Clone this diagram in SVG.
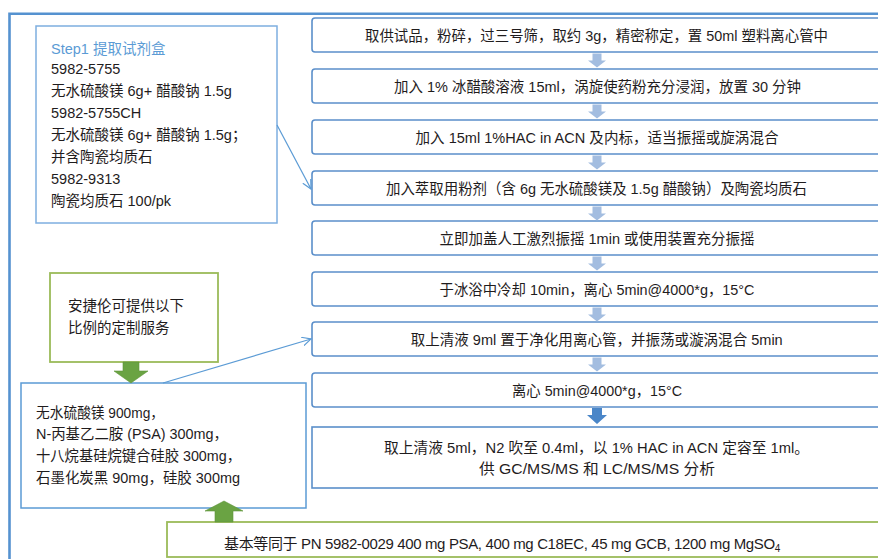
<svg xmlns="http://www.w3.org/2000/svg" width="878" height="559" viewBox="0 0 878 559">
<defs>
<style>
.t{font-family:"Liberation Sans","Noto Sans CJK SC",sans-serif;font-size:15px;fill:#1f1c1d}
.s{font-family:"Liberation Sans","Noto Sans CJK SC",sans-serif;font-size:14.5px;fill:#1f1c1d}
.box{fill:#fff;stroke:#5b8fca;stroke-width:1.6}
.gbox{fill:#fff;stroke:#9bbb59;stroke-width:1.8}
.conn{fill:none;stroke:#5b9bd5;stroke-width:1.2}
.la{fill:#a3bde0}
.da{fill:#4a86c8}
.ga{fill:#6aa343;stroke:#5e9639;stroke-width:0.6}
</style>
<path id="lightArrow" d="M-4.5,0 H4.5 V7 H9 L0,14 L-9,7 H-4.5 Z"/>
<marker id="open" viewBox="0 0 10 10" refX="9" refY="5" markerWidth="10" markerHeight="10" markerUnits="userSpaceOnUse" orient="auto">
<path d="M0,0.5 L9,5 L0,9.5" fill="none" stroke="#5b9bd5" stroke-width="1.2"/>
</marker>
</defs>
<rect width="878" height="559" fill="#fff"/>
<path d="M9.5,559 V13.7 H878" fill="none" stroke="#5592d0" stroke-width="2.6"/>

<g id="step1">
<rect x="36" y="26" width="241" height="197" fill="#fff" stroke="#7eaee0" stroke-width="1.5"/>
<text class="s" x="51" y="53.5" style="fill:#5b9bd5">Step1 提取试剂盒</text>
<text class="s" x="51" y="74">5982-5755</text>
<text class="s" x="51" y="96">无水硫酸镁 6g+ 醋酸钠 1.5g</text>
<text class="s" x="51" y="118">5982-5755CH</text>
<text class="s" x="51" y="140">无水硫酸镁 6g+ 醋酸钠 1.5g；</text>
<text class="s" x="51" y="162">并含陶瓷均质石</text>
<text class="s" x="51" y="184">5982-9313</text>
<text class="s" x="51" y="206">陶瓷均质石 100/pk</text>
</g>

<g id="s1"><rect class="box" x="312" y="18" width="575" height="34" rx="3"/>
<text class="t" x="365" y="40.5" textLength="463" lengthAdjust="spacingAndGlyphs">取供试品，粉碎，过三号筛，取约 3g，精密称定，置 50ml 塑料离心管中</text></g>
<g id="s2"><rect class="box" x="312" y="69" width="575" height="34" rx="3"/>
<text class="t" x="394" y="91.5" textLength="407" lengthAdjust="spacingAndGlyphs">加入 1% 冰醋酸溶液 15ml，涡旋使药粉充分浸润，放置 30 分钟</text></g>
<g id="s3"><rect class="box" x="312" y="120" width="575" height="34" rx="3"/>
<text class="t" x="415.5" y="142.5" textLength="363" lengthAdjust="spacingAndGlyphs">加入 15ml 1%HAC in ACN 及内标，适当振摇或旋涡混合</text></g>
<g id="s4"><rect class="box" x="312" y="171" width="575" height="34" rx="3"/>
<text class="t" x="386" y="193.5" textLength="421" lengthAdjust="spacingAndGlyphs">加入萃取用粉剂（含 6g 无水硫酸镁及 1.5g 醋酸钠）及陶瓷均质石</text></g>
<g id="s5"><rect class="box" x="312" y="221" width="575" height="34" rx="3"/>
<text class="t" x="439.5" y="243.5" textLength="315" lengthAdjust="spacingAndGlyphs">立即加盖人工激烈振摇 1min 或使用装置充分振摇</text></g>
<g id="s6"><rect class="box" x="312" y="272" width="575" height="34" rx="3"/>
<text class="t" x="439.5" y="294.5" textLength="315" lengthAdjust="spacingAndGlyphs">于冰浴中冷却 10min，离心 5min@4000*g，15°C</text></g>
<g id="s7"><rect class="box" x="312" y="322" width="575" height="34" rx="3"/>
<text class="t" x="410.7" y="344.5" textLength="372" lengthAdjust="spacingAndGlyphs">取上清液 9ml 置于净化用离心管，并振荡或漩涡混合 5min</text></g>
<g id="s8"><rect class="box" x="312" y="373" width="575" height="34" rx="3"/>
<text class="t" x="512" y="395.5" textLength="170" lengthAdjust="spacingAndGlyphs">离心 5min@4000*g，15°C</text></g>
<g id="s9"><rect class="box" x="312" y="427" width="575" height="61"/>
<text class="t" x="384" y="452.5" textLength="425" lengthAdjust="spacingAndGlyphs">取上清液 5ml，N2 吹至 0.4ml，以 1% HAC in ACN 定容至 1ml。</text>
<text class="t" x="479" y="473.5" textLength="236" lengthAdjust="spacingAndGlyphs">供 GC/MS/MS 和 LC/MS/MS 分析</text></g>

<g id="custom">
<rect class="gbox" x="50" y="273" width="168" height="89"/>
<text class="s" x="68" y="310.5">安捷伦可提供以下</text>
<text class="s" x="68" y="332.5">比例的定制服务</text>
</g>

<g id="mix">
<rect x="21" y="383" width="285" height="125" fill="#fff" stroke="#5b9bd5" stroke-width="1.5"/>
<text class="s" x="36" y="417.5" textLength="128" lengthAdjust="spacingAndGlyphs">无水硫酸镁 900mg，</text>
<text class="s" x="36" y="438.5" textLength="192" lengthAdjust="spacingAndGlyphs">N-丙基乙二胺 (PSA) 300mg，</text>
<text class="s" x="36" y="460.5" textLength="205" lengthAdjust="spacingAndGlyphs">十八烷基硅烷键合硅胶 300mg，</text>
<text class="s" x="36" y="482.5" textLength="204" lengthAdjust="spacingAndGlyphs">石墨化炭黑 90mg，硅胶 300mg</text>
</g>

<g id="equiv">
<rect class="gbox" x="167" y="522" width="720" height="35"/>
<text class="t" x="224" y="548.5" style="letter-spacing:-0.36px">基本等同于 PN 5982-0029 400 mg PSA, 400 mg C18EC, 45 mg GCB, 1200 mg MgSO<tspan font-size="10" dy="3">4</tspan></text>
</g>

<g id="connectors">
<use href="#lightArrow" class="la" x="597" y="53.5"/>
<use href="#lightArrow" class="la" x="597" y="104.5"/>
<use href="#lightArrow" class="la" x="597" y="155.5"/>
<use href="#lightArrow" class="la" x="597" y="206.5"/>
<use href="#lightArrow" class="la" x="597" y="256.5"/>
<use href="#lightArrow" class="la" x="597" y="307.5"/>
<use href="#lightArrow" class="la" x="597" y="357.5"/>
<path class="da" d="M592,408 H602 V415 H607 L597,424 L587,415 H592 Z"/>
<path class="ga" d="M123,362 H139 V371 H148 L131,383 L114,371 H123 Z"/>
<path class="ga" d="M215,522 V511 H205 L224,501 L243,511 H233 V522 Z"/>
<line class="conn" x1="277" y1="125" x2="311" y2="189" marker-end="url(#open)"/>
<line class="conn" x1="163" y1="383" x2="311" y2="339" marker-end="url(#open)"/>
</g>
</svg>
